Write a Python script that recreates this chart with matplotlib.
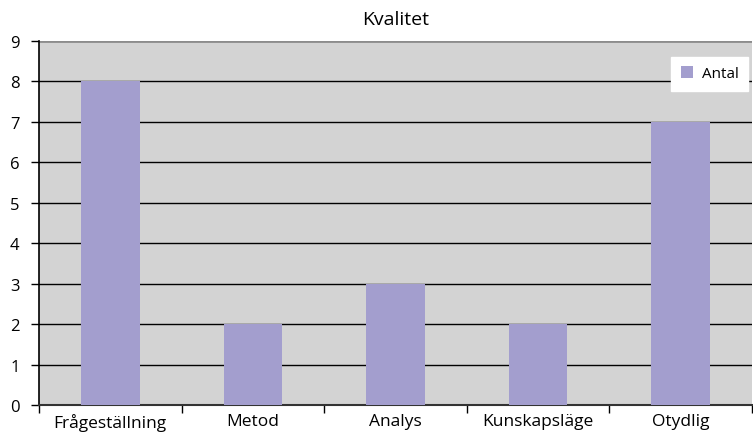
import matplotlib
matplotlib.use("Agg")
import matplotlib.pyplot as plt
import numpy as np

categories = ["Frågeställning", "Metod", "Analys", "Kunskapsläge", "Otydlig"]
antal = [8, 2, 3, 2, 7]
y_ticks = list(range(0, 10))

plt.rcParams['font.family'] = ['Open Sans', 'DejaVu Sans']

fig = plt.figure(figsize=(7.53, 4.35), dpi=100)
ax = fig.add_axes([39/753, 29/435, 713/753, 364/435])
ax.set_facecolor("#D3D3D3")

x = np.arange(len(categories))
ax.bar(x, antal, width=0.41, color="#A39ECE", zorder=3, label="Antal")

ax.set_xlim(-0.5, len(categories) - 0.5)
ax.set_ylim(0, 9)
ax.set_yticks(y_ticks)
ax.set_yticklabels([str(v) for v in y_ticks], fontsize=12)
for v in y_ticks[1:-1]:
    ax.axhline(v, color="black", linewidth=1.0, zorder=2)
ax.axhline(9, color="#8C8C8C", linewidth=2.0, zorder=2)

ax.set_xticks(np.arange(-0.5, len(categories), 1.0))
ax.set_xticklabels([])
ax.set_xticks(x, minor=True)
ax.set_xticklabels(categories, minor=True, fontsize=12.5)
ax.tick_params(axis="x", which="minor", length=0, pad=6)
ax.tick_params(axis="x", which="major", length=6, width=1, direction="out")
ax.tick_params(axis="y", length=6, width=1, direction="out", pad=8)

for side in ["top", "right"]:
    ax.spines[side].set_visible(False)
ax.spines["left"].set_linewidth(1.2)
ax.spines["bottom"].set_linewidth(1.5)
ax.spines["bottom"].set_color("#333333")

ax.set_title("Kvalitet", fontsize=14, pad=12)

leg = ax.legend(loc="upper right", bbox_to_anchor=(0.9944, 0.956), borderaxespad=0,
                frameon=True, fancybox=False, edgecolor="white", facecolor="white",
                framealpha=1, fontsize=11, handlelength=0.8, handleheight=0.8,
                borderpad=0.6, handletextpad=0.6)
leg.set_zorder(5)

fig.savefig("out.png", dpi=100)
